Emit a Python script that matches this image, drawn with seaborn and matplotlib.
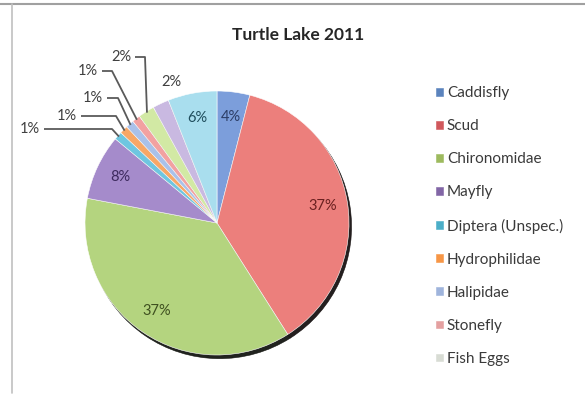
import matplotlib
matplotlib.use("Agg")
import matplotlib.pyplot as plt
import seaborn as sns
import numpy as np
from matplotlib.lines import Line2D

# ---- data ----
categories = ["Caddisfly", "Scud", "Chironomidae", "Mayfly", "Diptera (Unspec.)",
              "Hydrophilidae", "Halipidae", "Stonefly", "Fish Eggs", "Other A", "Other B"]
percent = [4, 37, 37, 8, 1, 1, 1, 1, 2, 2, 6]
legend_count = 9  # only the first nine entries are visible in the legend
title = "Turtle Lake 2011"

# ---- style ----
sns.set_theme(style="white")
plt.rcParams["font.family"] = ["Lato", "DejaVu Sans"]

colors = ["#7C9EDB", "#EC7F7C", "#B4D47F", "#A58BCB", "#6EC6E0", "#F7A766",
          "#A9C1EA", "#F2A1A1", "#D2E9A4", "#C9B9E1", "#A9DEEE"]
legend_colors = ["#5B83BD", "#D0585C", "#9DBA5E", "#8266A6", "#4BAEC8", "#F79646",
                 "#9FB4DC", "#E4A0A0", "#D8DCD4"]

W, H = 585, 396
cx, cy, R = 217, 223, 132  # pie centre/radius in pixels


def px(x, y):
    return (x - cx) / R, (cy - y) / R


fig = plt.figure(figsize=(W / 100, H / 100), dpi=100)
ax = fig.add_axes([0, 0, 1, 1])

wedges, texts, autotexts = ax.pie(
    percent, colors=colors, startangle=90, counterclock=False, radius=1,
    autopct=lambda p: f"{p:.0f}%" if p >= 3.5 else "", pctdistance=0.81,
    wedgeprops=dict(linewidth=0.4, edgecolor="white"),
    shadow={"ox": 0.014, "oy": -0.02, "shade": 0.95, "alpha": 0.9},
    textprops=dict(fontsize=10.5, color="#404040"),
)
ax.set_xlim(-cx / R, (W - cx) / R)
ax.set_ylim(-(H - cy) / R, cy / R)
ax.axis("off")

label_dark = ["#2c3d66", "#6b2020", "#3f5020", "#3d2a5e", None, None, None, None, None, None, "#1f4d5c"]
for t, c in zip(autotexts, label_dark):
    if c:
        t.set_color(c)

# outside labels (text position in px, knee x in px or None)
outside = {4: ((30, 129), 112), 5: ((67, 116), 116), 6: ((93, 98), 118),
           7: ((88, 71), 112), 8: ((121, 57), 145), 9: ((171, 82), None)}
for i, ((tx, ty), knee) in outside.items():
    w = wedges[i]
    mid = np.deg2rad((w.theta1 + w.theta2) / 2)
    ex, ey = 0.99 * np.cos(mid), 0.99 * np.sin(mid)
    x0, y0 = px(tx, ty)
    ax.text(x0, y0, f"{percent[i]}%", fontsize=10.5, color="#404040",
            ha="center", va="center")
    if knee is not None:
        sx, _ = px(tx + 14, ty)
        kx, _ = px(knee, ty)
        ax.plot([sx, kx, ex], [y0, y0, ey], color="#5a5a5a",
                lw=1.3, solid_capstyle="butt")

ax.legend(wedges[:legend_count], categories[:legend_count],
          loc="upper left", bbox_to_anchor=(430 / W, 1 - 80 / H),
          bbox_transform=fig.transFigure, frameon=False, fontsize=11,
          handlelength=0.45, handleheight=0.4, handletextpad=0.25,
          labelspacing=1.25, labelcolor="#3a3a3a", borderaxespad=0)
for h, c in zip(ax.get_legend().legend_handles, legend_colors):
    h.set_facecolor(c)
    h.set_edgecolor(c)

fig.text(298 / W, 1 - 35 / H, title, fontsize=12.5, fontweight="bold",
         color="#262626", ha="center", va="center")

# chart frame edges
fig.add_artist(Line2D([0, 1], [1 - 4 / H, 1 - 4 / H], transform=fig.transFigure,
                      color="#a0a0a0", lw=1.5))
fig.add_artist(Line2D([12 / W, 12 / W], [0.008, 1 - 4 / H], transform=fig.transFigure,
                      color="#c0c0c0", lw=1.2))

fig.savefig("out.png", dpi=100, facecolor="white")
